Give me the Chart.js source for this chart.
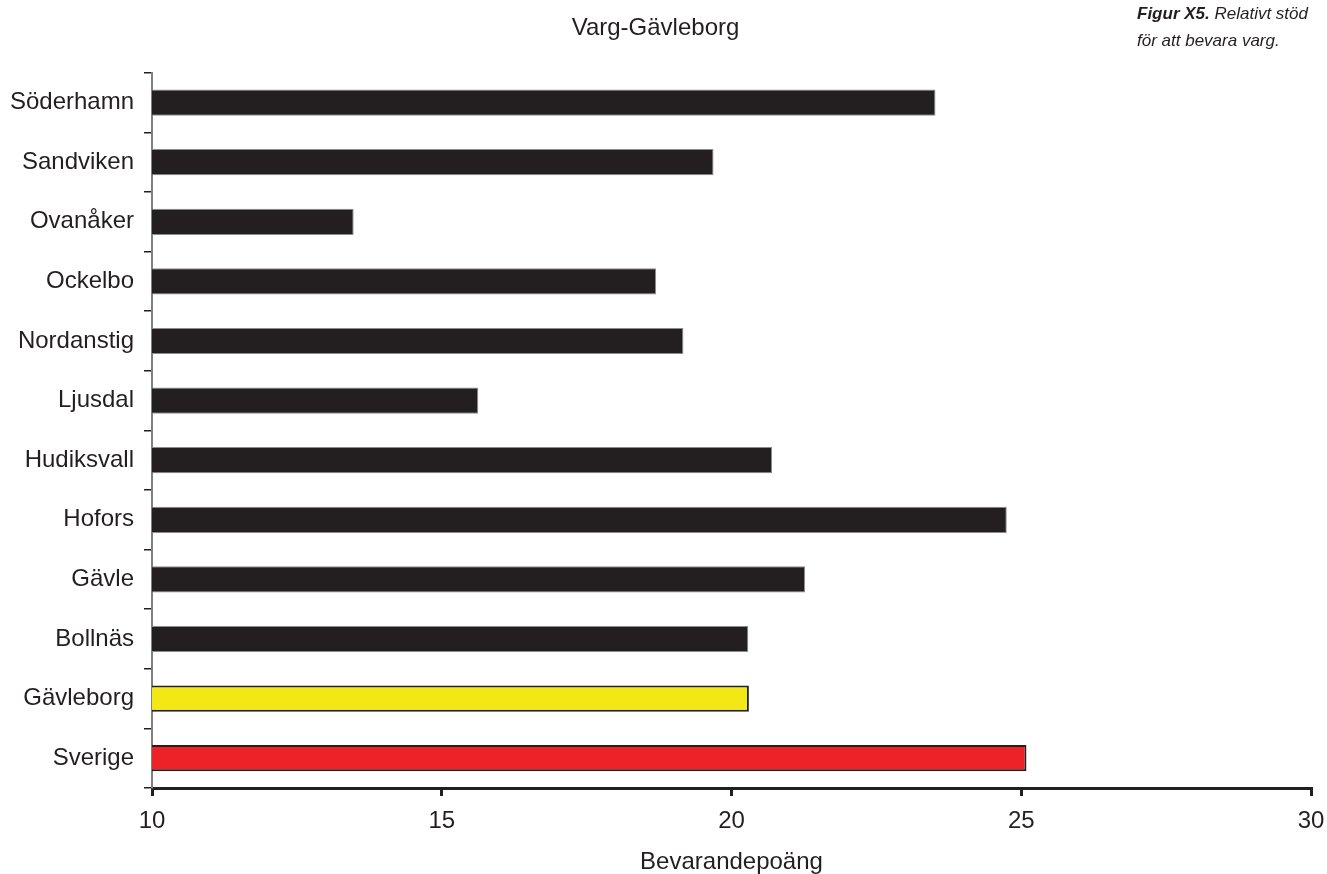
<!DOCTYPE html>
<html>
<head>
<meta charset="utf-8">
<script src="https://cdn.jsdelivr.net/npm/chart.js@4/dist/chart.umd.min.js"></script>
<style>
  html, body { margin: 0; padding: 0; background: #fff; }
  #wrap { width: 1327px; height: 874px; }
</style>
</head>
<body>
<div id="wrap"><canvas id="chart" width="1327" height="874"></canvas></div>
<script>
// Kommuner (top to bottom), Gävleborg and Sverige at the bottom
const categories = ['Söderhamn', 'Sandviken', 'Ovanåker', 'Ockelbo', 'Nordanstig', 'Ljusdal',
    'Hudiksvall', 'Hofors', 'Gävle', 'Bollnäs', 'Gävleborg', 'Sverige'];
const scores = [23.52, 19.69, 13.48, 18.70, 19.17, 15.63, 20.70, 24.75, 21.27, 20.29, 20.30, 25.09];
const xTicks = [10, 15, 20, 25, 30];

const chartTitle = 'Varg-Gävleborg';
const xTitle = 'Bevarandepoäng';
const caption = ['Figur X5.', 'Relativt stöd', 'för att bevara varg.'];

const ink = '#231f20';
const fontFamily = '"Liberation Sans", Arial, Helvetica, sans-serif';

// bar colours: regional and national totals highlighted
const fillColors = categories.map(c => c === 'Gävleborg' ? '#f4e814' : c === 'Sverige' ? '#ec2227' : ink);
const edgeColors = categories.map(c => (c === 'Gävleborg' || c === 'Sverige') ? ink : '#8c8c8c');
const edgeWidths = categories.map(c => (c === 'Gävleborg' || c === 'Sverige') ? 2 : 1);

// caption in the top right corner
const captionPlugin = {
    id: 'caption',
    afterDraw(chart) {
        const ctx = chart.ctx;
        ctx.save();
        ctx.fillStyle = ink;
        ctx.textBaseline = 'middle';
        ctx.textAlign = 'left';
        const x = 1137;
        ctx.font = 'italic bold 17px ' + fontFamily;
        ctx.fillText(caption[0], x, 14);
        const w = ctx.measureText(caption[0] + ' ').width;
        ctx.font = 'italic 17px ' + fontFamily;
        ctx.fillText(caption[1], x + w, 14);
        ctx.fillText(caption[2], x, 41);
        ctx.restore();
    }
};

const ctx = document.getElementById('chart').getContext('2d');
const chart = new Chart(ctx, {
    type: 'bar',
    data: {
        labels: categories,
        datasets: [{
            label: xTitle,
            data: scores,
            backgroundColor: fillColors,
            borderColor: edgeColors,
            borderWidth: edgeWidths,
            borderSkipped: false,
            barPercentage: 0.44,
            categoryPercentage: 1
        }]
    },
    options: {
        indexAxis: 'y',
        responsive: false,
        animation: false,
        layout: {
            padding: { left: 0, right: 16, top: 0, bottom: 0 }
        },
        plugins: {
            legend: { display: false },
            tooltip: { enabled: false },
            title: {
                display: true,
                text: chartTitle,
                color: ink,
                font: { family: fontFamily, size: 24, weight: 'normal' },
                padding: { top: 14, bottom: 30 }
            }
        },
        scales: {
            x: {
                type: 'linear',
                min: 10,
                max: 30,
                afterBuildTicks: scale => { scale.ticks = xTicks.map(v => ({ value: v })); },
                afterFit: scale => {
                    scale.height = 86;
                    scale.paddingLeft = 0;
                    scale.paddingRight = 0;
                },
                grid: {
                    display: true,
                    drawOnChartArea: false,
                    drawTicks: true,
                    tickLength: 8,
                    color: ink,
                    lineWidth: 3
                },
                border: { display: true, color: ink, width: 3 },
                ticks: {
                    color: ink,
                    padding: 11,
                    font: { family: fontFamily, size: 24 }
                },
                title: {
                    display: true,
                    text: xTitle,
                    color: ink,
                    padding: { top: 0, bottom: -3 },
                    font: { family: fontFamily, size: 24 }
                }
            },
            y: {
                offset: true,
                afterFit: scale => { scale.width = 152; },
                grid: {
                    display: true,
                    offset: true,
                    drawOnChartArea: false,
                    drawTicks: true,
                    tickLength: 8,
                    color: ink,
                    lineWidth: 1.5
                },
                border: { display: true, color: '#7f7f7f', width: 2 },
                ticks: {
                    color: ink,
                    padding: 10,
                    autoSkip: false,
                    font: { family: fontFamily, size: 24 }
                }
            }
        }
    },
    plugins: [captionPlugin]
});
</script>
</body>
</html>
